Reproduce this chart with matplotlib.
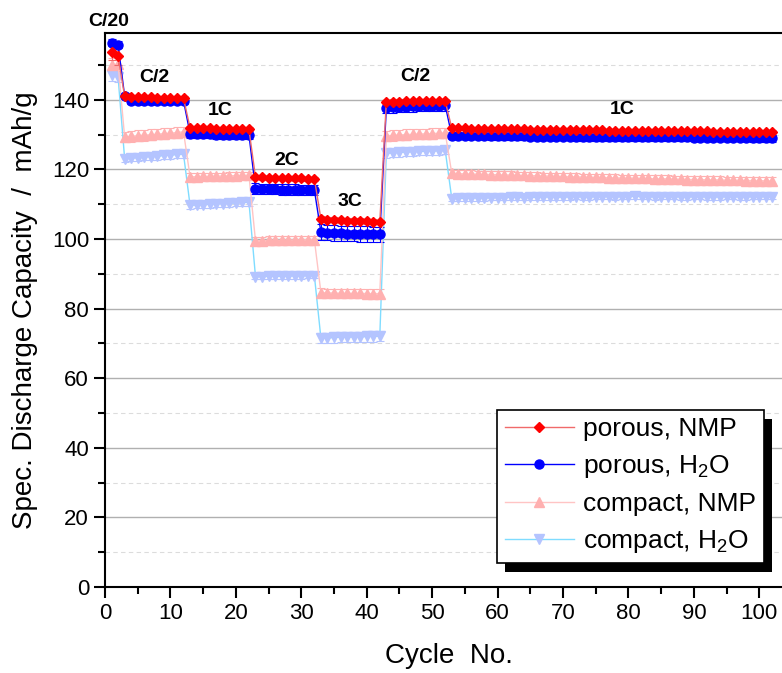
import numpy as np
import matplotlib
matplotlib.use("Agg")
import matplotlib.pyplot as plt
from matplotlib.patches import Rectangle

plt.rcParams['font.family'] = ['Liberation Sans', 'DejaVu Sans']
plt.rcParams['mathtext.fontset'] = 'custom'
plt.rcParams['mathtext.rm'] = 'Liberation Sans'
plt.rcParams['mathtext.it'] = 'Liberation Sans:italic'

# segments: C/20, C/2, 1C, 2C, 3C, C/2, 1C
seg_len = [2, 10, 10, 10, 10, 10, 50]
cycles = np.arange(1, sum(seg_len) + 1)

porous_nmp = [
    153.8, 152.5,
    141.0, 140.8, 140.8, 140.7, 140.7, 140.6, 140.6, 140.5, 140.5, 140.4,
    132.0, 131.9, 131.8, 131.8, 131.7, 131.7, 131.6, 131.6, 131.5, 131.5,
    117.8, 117.7, 117.6, 117.6, 117.5, 117.5, 117.4, 117.4, 117.3, 117.3,
    105.8, 105.6, 105.5, 105.4, 105.3, 105.3, 105.2, 105.1, 105.0, 104.9,
    139.4, 139.5, 139.5, 139.6, 139.6, 139.6, 139.7, 139.7, 139.7, 139.6,
    131.9, 131.8, 131.8, 131.7, 131.7, 131.7, 131.6, 131.6, 131.6, 131.5,
    131.5, 131.5, 131.4, 131.4, 131.4, 131.4, 131.3, 131.3, 131.3, 131.3,
    131.2, 131.2, 131.2, 131.2, 131.1, 131.1, 131.1, 131.1, 131.1, 131.0,
    131.0, 131.0, 131.0, 131.0, 130.9, 130.9, 130.9, 130.9, 130.9, 130.9,
    130.8, 130.8, 130.8, 130.8, 130.8, 130.8, 130.7, 130.7, 130.7, 130.7,
]
porous_h2o = [
    156.4, 155.8,
    141.1, 139.8, 139.7, 139.7, 139.7, 139.8, 139.7, 139.7, 139.8, 139.7,
    130.3, 130.2, 130.1, 130.1, 130.0, 130.0, 130.0, 129.9, 129.9, 129.9,
    114.5, 114.4, 114.3, 114.3, 114.2, 114.2, 114.2, 114.1, 114.1, 114.1,
    102.0, 101.8, 101.7, 101.6, 101.5, 101.5, 101.4, 101.4, 101.3, 101.3,
    137.6, 137.8, 137.9, 138.0, 138.1, 138.2, 138.2, 138.3, 138.3, 138.4,
    129.7, 129.7, 129.6, 129.6, 129.6, 129.6, 129.5, 129.5, 129.5, 129.5,
    129.5, 129.5, 129.4, 129.4, 129.4, 129.4, 129.4, 129.4, 129.4, 129.3,
    129.3, 129.3, 129.3, 129.3, 129.3, 129.3, 129.3, 129.3, 129.2, 129.2,
    129.2, 129.2, 129.2, 129.2, 129.2, 129.2, 129.2, 129.1, 129.1, 129.1,
    129.1, 129.1, 129.1, 129.1, 129.1, 129.1, 129.0, 129.0, 129.0, 129.0,
]
compact_nmp = [
    150.0, 150.3,
    129.3, 129.5, 129.7, 129.8, 130.0, 130.1, 130.3, 130.4, 130.6, 130.8,
    117.9, 117.9, 118.0, 118.0, 118.1, 118.1, 118.2, 118.2, 118.3, 118.3,
    99.5, 99.5, 99.6, 99.6, 99.6, 99.7, 99.7, 99.7, 99.8, 99.8,
    84.6, 84.5, 84.5, 84.4, 84.4, 84.4, 84.4, 84.3, 84.3, 84.3,
    129.6, 129.8, 129.9, 130.0, 130.1, 130.2, 130.2, 130.3, 130.4, 130.5,
    118.9, 118.8, 118.7, 118.7, 118.6, 118.6, 118.5, 118.5, 118.4, 118.4,
    118.3, 118.3, 118.2, 118.2, 118.1, 118.1, 118.0, 118.0, 117.9, 117.9,
    117.8, 117.8, 117.7, 117.7, 117.6, 117.6, 117.5, 117.5, 117.5, 117.4,
    117.4, 117.3, 117.3, 117.3, 117.2, 117.2, 117.1, 117.1, 117.1, 117.0,
    117.0, 117.0, 116.9, 116.9, 116.9, 116.8, 116.8, 116.8, 116.7, 116.7,
]
compact_h2o = [
    147.0, 146.5,
    123.1, 123.3, 123.4, 123.6, 123.7, 123.8, 124.0, 124.1, 124.3, 124.4,
    109.7, 109.8, 109.9, 110.0, 110.1, 110.2, 110.3, 110.4, 110.5, 110.6,
    89.2, 89.2, 89.3, 89.3, 89.3, 89.4, 89.4, 89.4, 89.5, 89.5,
    71.5, 71.6, 71.7, 71.8, 71.8, 71.9, 71.9, 72.0, 72.0, 72.1,
    124.6, 124.8, 124.9, 125.0, 125.1, 125.2, 125.2, 125.3, 125.4, 125.5,
    111.6, 111.7, 111.7, 111.8, 111.8, 111.8, 111.9, 111.9, 111.9, 112.0,
    112.0, 111.9, 112.0, 112.0, 112.1, 112.1, 112.0, 112.1, 112.1, 112.2,
    112.1, 112.1, 112.2, 112.2, 112.2, 112.1, 112.2, 112.2, 112.3, 112.2,
    112.2, 112.1, 112.2, 112.2, 112.2, 112.1, 112.1, 112.2, 112.2, 112.1,
    112.1, 112.1, 112.2, 112.2, 112.1, 112.1, 112.2, 112.2, 112.2, 112.2,
]

# error bar size per segment
err_porous_nmp = [2.5, 0.6, 0.6, 0.6, 0.7, 0.6, 0.5]
err_porous_h2o = [1.0, 1.0, 1.2, 1.5, 2.2, 1.5, 1.0]
err_compact_nmp = [2.0, 1.5, 1.0, 1.2, 1.2, 1.5, 1.0]
err_compact_h2o = [1.5, 1.0, 1.0, 0.8, 1.5, 1.2, 0.8]

labels = ["porous, NMP", "porous, H$_2$O", "compact, NMP", "compact, H$_2$O"]
rate_labels = ["C/20", "C/2", "1C", "2C", "3C", "C/2", "1C"]
rate_pos = [(0.5, 162.6), (7.6, 146.4), (17.6, 137.0), (27.8, 122.6),
            (37.5, 110.8), (47.5, 146.6), (79.1, 137.1)]

series = [
    (porous_nmp, err_porous_nmp, '#f06a6a', 'D', '#ff0000', 5.5),
    (porous_h2o, err_porous_h2o, '#0000ff', 'o', '#0000ff', 6.5),
    (compact_nmp, err_compact_nmp, '#ffc4c4', '^', '#ffb0b0', 7),
    (compact_h2o, err_compact_h2o, '#7fdcff', 'v', '#b4c4ff', 7),
]

fig = plt.figure(figsize=(7.82, 6.73), dpi=100)
ax = fig.add_axes([105 / 782, 86 / 673, 687 / 782, 554 / 673])

handles = []
for i, (vals, err, lc, mk, mc, ms) in reversed(list(enumerate(series))):
    yerr = np.repeat(err, seg_len)
    ax.errorbar(cycles, vals, yerr=yerr, fmt='none', ecolor=mc if i > 1 else lc,
                elinewidth=0.8, capsize=3, capthick=0.8, zorder=2 + (3 - i))
for i, (vals, err, lc, mk, mc, ms) in enumerate(series):
    h, = ax.plot(cycles, vals, color=lc, lw=1.0, marker=mk, ms=ms,
                 mfc=mc, mec=mc, label=labels[i], zorder=3 + (3 - i))
    handles.append(h)

for txt, (xp, yp) in zip(rate_labels, rate_pos):
    ax.text(xp, yp, txt, fontsize=14, fontweight='bold', ha='center',
            va='center', clip_on=False)

ax.set_xlim(0, 105)
ax.set_ylim(0, 159.2)
ax.set_xticks(np.arange(0, 101, 10))
ax.set_xticks(np.arange(5, 101, 10), minor=True)
ax.set_yticks(np.arange(0, 141, 20))
ax.set_yticks(np.arange(10, 160, 20), minor=True)
ax.tick_params(which='major', direction='out', length=8, width=1.5, labelsize=16)
ax.tick_params(which='minor', direction='out', length=5, width=1.5)
ax.grid(axis='y', which='major', color='#b0b0b0', lw=1.0)
ax.grid(axis='y', which='minor', color='#dcdcdc', lw=0.8, ls=(0, (4, 3)))
ax.set_axisbelow(True)
for s in ['left', 'bottom', 'top']:
    ax.spines[s].set_linewidth(1.5)
ax.spines['right'].set_visible(False)

ax.set_xlabel("Cycle  No.", fontsize=20, labelpad=14)
ax.set_ylabel("Spec. Discharge Capacity  /  mAh/g", fontsize=20, labelpad=10)

leg = ax.legend(handles=handles, loc='lower left', bbox_to_anchor=(0.571, 0.0433),
                borderaxespad=0, fontsize=19, fancybox=False, framealpha=1,
                edgecolor='black', handlelength=2.6, labelspacing=0.45,
                borderpad=0.3, handletextpad=0.35)
leg.get_frame().set_linewidth(1.2)
leg.set_zorder(10)

fig.canvas.draw()
bb = leg.get_window_extent()
shadow = Rectangle((bb.x0 + 8, bb.y0 - 9), bb.width, bb.height, transform=None,
                   facecolor='black', edgecolor='none', zorder=9, clip_on=False)
ax.add_artist(shadow)

fig.savefig("out.png", dpi=100)
